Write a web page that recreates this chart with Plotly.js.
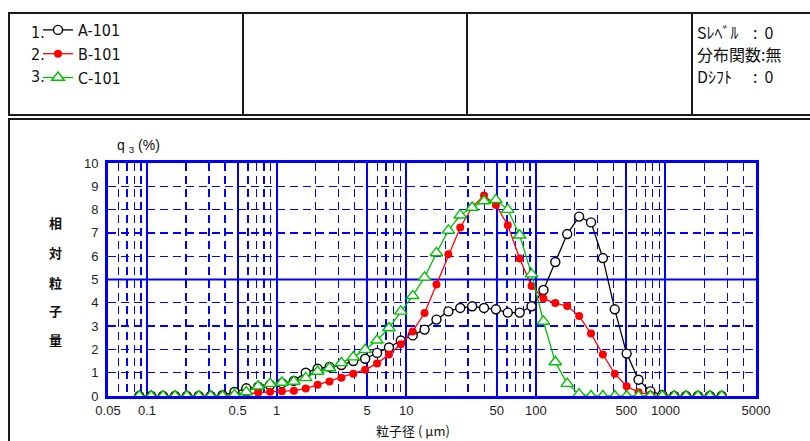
<!DOCTYPE html>
<html>
<head>
<meta charset="utf-8">
<script src="https://cdn.plot.ly/plotly-3.0.1.min.js"></script>
<style>html,body{margin:0;padding:0;background:#fff;}#chart{width:810px;height:441px;}</style>
</head>
<body>
<div id="chart"></div>
<script>
// particle size channels (µm)
var sizes = [0.0872,0.1077,0.1330,0.1643,0.2030,0.2507,0.3097,0.3825,0.4725,0.5836,
             0.7209,0.8903,1.0996,1.358,1.678,2.072,2.559,3.161,3.904,4.823,
             5.956,7.357,9.086,11.22,13.86,17.12,21.15,26.12,32.26,39.84,
             49.21,60.78,75.07,92.71,114.5,141.4,174.7,215.8,266.6,329.2,
             406.6,502.2,620.3,766.1,946.0,1168.6,1443,1782,2202,2720];
// q3 (%) values
var a101 = [0,0,0,0,0,0,0,0.03,0.17,0.33,
            0.40,0.47,0.55,0.65,1.00,1.17,1.25,1.33,1.50,1.60,
            1.85,2.08,2.38,2.60,2.85,3.28,3.63,3.78,3.85,3.78,
            3.72,3.58,3.58,3.85,4.55,5.75,6.95,7.70,7.45,5.92,
            3.72,1.82,0.70,0.20,0.05,0,0,0,0,0];
var b101 = [0,0,0,0,0,0,0,0.02,0.05,0.10,
            0.15,0.18,0.20,0.23,0.32,0.48,0.62,0.78,0.96,1.13,
            1.39,1.78,2.22,2.77,3.56,4.79,6.08,7.23,8.11,8.60,
            8.20,7.33,5.90,4.72,4.18,3.99,3.86,3.43,2.68,1.78,
            0.96,0.42,0.16,0.05,0,0,0,0,0,0];
var c101 = [0,0,0,0,0,0,0,0,0.05,0.17,
            0.42,0.53,0.58,0.62,0.78,1.05,1.20,1.42,1.67,1.99,
            2.39,2.92,3.63,4.30,5.09,6.14,7.11,7.76,8.09,8.37,
            8.42,8.00,6.90,5.23,3.20,1.46,0.53,0.08,0,0,
            0,0,0,0,0,0,0,0,0,0];
var seriesNames = ['A-101','B-101','C-101'];
var seriesNums = ['1.','2.','3.'];
var xTickVals = [0.05,0.1,0.5,1,5,10,50,100,500,1000,5000];
var xTickText = ['0.05','0.1','0.5','1','5','10','50','100','500','1000','5000'];
var xMinorVals = [0.06,0.07,0.08,0.09,0.2,0.3,0.4,0.6,0.7,0.8,0.9,2,3,4,6,7,8,9,
                  20,30,40,60,70,80,90,200,300,400,600,700,800,900,2000,3000,4000];
var yTickVals = [0,1,2,3,4,5,6,7,8,9,10];
var yTitleChars = ['相','対','粒','子','量'];
var infoLabels = ['Sﾚﾍﾞﾙ', '分布関数:無', 'Dｼﾌﾄ'];
var infoValues = [':  0', '', ':  0'];

var W = 810, H = 441, ML = 108, MR = 54, MT = 163, MB = 45;
var PW = W - ML - MR, PH = H - MT - MB;
function fx(px){ return (px - ML) / PW; }
function fy(py){ return (H - MB - py) / PH; }

var blue = '#0000ff';
var traces = [
  {x: sizes, y: a101, name: seriesNames[0], type: 'scatter', mode: 'lines+markers',
   line: {color: '#000000', width: 1.3},
   marker: {symbol: 'circle', size: 9, color: '#ffffff', line: {color: '#000000', width: 1.4}}},
  {x: sizes, y: b101, name: seriesNames[1], type: 'scatter', mode: 'lines+markers',
   line: {color: '#ff0000', width: 1.3},
   marker: {symbol: 'circle', size: 8, color: '#ff0000', line: {color: '#ff0000', width: 0}}},
  {x: sizes, y: c101, name: seriesNames[2], type: 'scatter', mode: 'lines+markers',
   line: {color: '#00c000', width: 1.3},
   marker: {symbol: 'triangle-up', size: 11, color: '#ffffff', line: {color: '#00c000', width: 1.4}}}
];

var frameColor = '#1a1a1a';
var shapes = [
  {type:'rect', xref:'paper', yref:'paper', x0: fx(9), x1: fx(830), y0: fy(13), y1: fy(115),
   line:{color: frameColor, width: 2}},
  {type:'line', xref:'paper', yref:'paper', x0: fx(243), x1: fx(243), y0: fy(13), y1: fy(115),
   line:{color: frameColor, width: 2}},
  {type:'line', xref:'paper', yref:'paper', x0: fx(467), x1: fx(467), y0: fy(13), y1: fy(115),
   line:{color: frameColor, width: 2}},
  {type:'line', xref:'paper', yref:'paper', x0: fx(692), x1: fx(692), y0: fy(13), y1: fy(115),
   line:{color: frameColor, width: 2}},
  {type:'rect', xref:'paper', yref:'paper', x0: fx(9), x1: fx(830), y0: fy(119), y1: fy(460),
   line:{color: frameColor, width: 2}},
  {type:'line', xref:'paper', yref:'y', x0: 0, x1: 1, y0: 5, y1: 5, layer: 'below',
   line:{color: blue, width: 2}}
];

var txtFont = 'DejaVu Sans Condensed, Liberation Sans Narrow, Arial Narrow, Liberation Sans, sans-serif';
var annotations = [];
var headerRows = [32, 54, 76];
seriesNums.forEach(function(t, i){
  annotations.push({xref:'paper', yref:'paper', x: fx(29), y: fy(headerRows[i]), xanchor:'left', yanchor:'middle',
    text: t, showarrow:false, font:{family: txtFont, size: 16, color:'#111'}});
});
infoLabels.forEach(function(t, i){
  annotations.push({xref:'paper', yref:'paper', x: fx(695), y: fy(headerRows[i]), xanchor:'left', yanchor:'middle',
    text: t, showarrow:false, font:{family: 'Noto Sans CJK JP, sans-serif', size: 16, color:'#111'}});
  if (infoValues[i]) {
    annotations.push({xref:'paper', yref:'paper', x: fx(751), y: fy(headerRows[i]), xanchor:'left', yanchor:'middle',
      text: infoValues[i], showarrow:false, font:{family: 'Noto Sans CJK JP, sans-serif', size: 16, color:'#111'}});
  }
});
var yTitleRows = [222, 252, 282, 310, 339];
yTitleChars.forEach(function(c, i){
  annotations.push({xref:'paper', yref:'paper', x: fx(55), y: fy(yTitleRows[i]), xanchor:'center', yanchor:'middle',
    text: c, showarrow:false, font:{family: 'Noto Sans CJK JP, sans-serif', size: 13, color:'#111', weight: 700}});
});
annotations.push({xref:'paper', yref:'paper', x: fx(115), y: fy(146), xanchor:'left', yanchor:'middle',
  text: 'q <sub>3</sub> (%)', showarrow:false,
  font:{family: 'Liberation Sans, Arial, sans-serif', size: 14, color:'#111'}});
annotations.push({xref:'paper', yref:'paper', x: fx(413), y: fy(430), xanchor:'center', yanchor:'middle',
  text: '粒子径 ( μm)', showarrow:false,
  font:{family: 'Noto Sans CJK JP, sans-serif', size: 13, color:'#111'}});

var layout = {
  width: W, height: H,
  margin: {l: ML, r: MR, t: MT, b: MB, pad: 0},
  paper_bgcolor: '#ffffff', plot_bgcolor: '#ffffff',
  showlegend: true,
  legend: {x: fx(38), y: fy(13), xanchor: 'left', yanchor: 'top', bgcolor: 'rgba(0,0,0,0)',
           font: {family: txtFont, size: 16, color: '#111'}, tracegroupgap: 0, itemclick: false},
  xaxis: {type: 'log', range: [Math.log10(0.05), Math.log10(5000)],
          tickmode: 'array', tickvals: xTickVals, ticktext: xTickText, ticks: '',
          showgrid: true, gridcolor: blue, gridwidth: 2,
          minor: {tickmode: 'array', tickvals: xMinorVals, showgrid: true, gridcolor: blue, gridwidth: 1.3, griddash: '8px,5px', ticks: ''},
          showline: true, linecolor: blue, linewidth: 3, mirror: true, zeroline: false,
          tickfont: {family: 'Liberation Sans, Arial, sans-serif', size: 13, color: '#222'}},
  yaxis: {range: [0, 10], tickmode: 'array', tickvals: yTickVals, ticks: '',
          showgrid: true, gridcolor: blue, gridwidth: 1.3, griddash: '8px,5px',
          showline: true, linecolor: blue, linewidth: 3, mirror: true, zeroline: false,
          ticklabelstandoff: 4,
          tickfont: {family: 'Liberation Sans, Arial, sans-serif', size: 13, color: '#222'}},
  shapes: shapes,
  annotations: annotations
};

Plotly.newPlot('chart', traces, layout, {displayModeBar: false, staticPlot: true});
</script>
</body>
</html>
